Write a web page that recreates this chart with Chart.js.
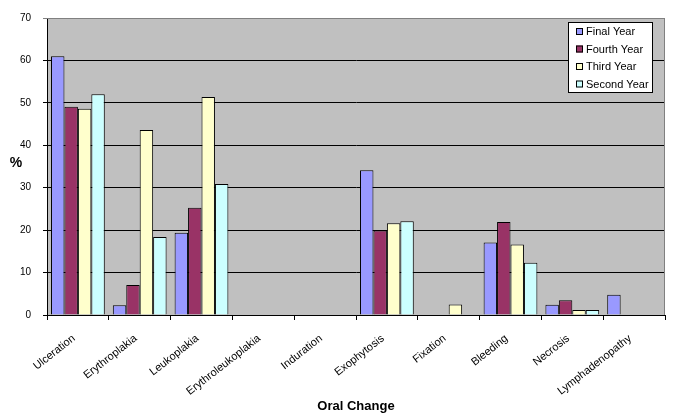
<!DOCTYPE html>
<html>
<head>
<meta charset="utf-8">
<script src="https://cdn.jsdelivr.net/npm/chart.js@4/dist/chart.umd.min.js"></script>
<style>
  body { margin: 0; background: #fff; }
  #wrap { width: 685px; height: 418px; }
</style>
</head>
<body>
<div id="wrap"><canvas id="myChart" width="685" height="418"></canvas></div>
<script>
const categories = ['Ulceration', 'Erythroplakia', 'Leukoplakia', 'Erythroleukoplakia', 'Induration',
    'Exophytosis', 'Fixation', 'Bleeding', 'Necrosis', 'Lymphadenopathy'];
const finalYear  = [61, 2.3, 19.4, 0, 0, 34.1, 0,   17.1, 2.4, 4.8];
const fourthYear = [49.1, 7.1, 25.3, 0, 0, 19.9, 0,  21.9, 3.5, 0];
const thirdYear  = [48.6, 43.6, 51.4, 0, 0, 21.6, 2.5, 16.6, 1.2, 0];
const secondYear = [52, 18.4, 30.9, 0, 0, 22.1, 0,   12.3, 1.2, 0];
const seriesNames = ['Final Year', 'Fourth Year', 'Third Year', 'Second Year'];
const seriesColors = ['#9999ff', '#993366', '#ffffcc', '#ccffff'];
const yTicks = [0, 10, 20, 30, 40, 50, 60, 70];

const FONT = "'Liberation Sans', Arial, sans-serif";

// grey plot area, border, the upright "%" and the boxed legend
const excelLook = {
    id: 'excelLook',
    beforeDraw(chart) {
        const a = chart.chartArea, ctx = chart.ctx;
        ctx.save();
        ctx.fillStyle = '#c0c0c0';
        ctx.fillRect(a.left, a.top, a.right - a.left, a.bottom - a.top);
        ctx.restore();
    },
    afterDraw(chart) {
        const a = chart.chartArea, ctx = chart.ctx;
        ctx.save();
        ctx.strokeStyle = '#808080';
        ctx.lineWidth = 1;
        ctx.beginPath();
        ctx.moveTo(a.left, a.top + 0.5);
        ctx.lineTo(a.right - 0.5, a.top + 0.5);
        ctx.lineTo(a.right - 0.5, a.bottom);
        ctx.stroke();

        ctx.fillStyle = '#000';
        ctx.font = 'bold 14px ' + FONT;
        ctx.textAlign = 'center';
        ctx.textBaseline = 'middle';
        ctx.fillText('%', 16, 163);

        // legend
        const lx = 568, ly = 22, lw = 85, lh = 71;
        ctx.fillStyle = '#fff';
        ctx.fillRect(lx, ly, lw, lh);
        ctx.strokeStyle = '#000';
        ctx.strokeRect(lx + 0.5, ly + 0.5, lw - 1, lh - 1);
        ctx.font = '11px ' + FONT;
        ctx.textAlign = 'left';
        chart.data.datasets.forEach((ds, i) => {
            const cy = ly + 9 + i * 17.5;
            ctx.fillStyle = ds.backgroundColor;
            ctx.fillRect(576, cy - 3, 7, 7);
            ctx.strokeStyle = '#000';
            ctx.strokeRect(576.5, cy - 2.5, 6, 6);
            ctx.fillStyle = '#000';
            ctx.fillText(ds.label, 586, cy + 1);
        });
        ctx.restore();
    }
};

const ctx = document.getElementById('myChart').getContext('2d');
const myChart = new Chart(ctx, {
    type: 'bar',
    data: {
        labels: categories,
        datasets: [finalYear, fourthYear, thirdYear, secondYear].map((vals, i) => ({
            label: seriesNames[i],
            data: vals,
            backgroundColor: seriesColors[i],
            borderColor: '#000',
            borderWidth: 1,
            categoryPercentage: 0.87,
            barPercentage: 1.0
        }))
    },
    options: {
        responsive: false,
        animation: false,
        layout: { padding: { left: 0, right: 20, top: 10, bottom: 0 } },
        plugins: {
            legend: { display: false },
            tooltip: { enabled: false }
        },
        scales: {
            x: {
                grid: { offset: true, drawOnChartArea: false, color: '#000', tickLength: 5 },
                border: { color: '#000' },
                ticks: {
                    color: '#000',
                    font: { family: FONT, size: 11 },
                    maxRotation: 38,
                    minRotation: 38,
                    padding: 12,
                    labelOffset: -4,
                    autoSkip: false
                },
                title: {
                    display: true,
                    text: 'Oral Change',
                    color: '#000',
                    font: { family: FONT, size: 13, weight: 'bold' },
                    padding: { top: 0, bottom: 4 }
                },
                afterFit(scale) { scale.height = 103; }
            },
            y: {
                min: 0,
                max: 70,
                afterBuildTicks(scale) { scale.ticks = yTicks.map(v => ({ value: v })); },
                grid: {
                    color: c => (c.tick && c.tick.value === 70) ? '#808080' : '#000',
                    tickLength: 4
                },
                border: { color: '#000' },
                ticks: {
                    color: '#000',
                    padding: 12,
                    font: { family: FONT, size: 10 }
                },
                afterFit(scale) { scale.width = 47; }
            }
        }
    },
    plugins: [excelLook]
});
</script>
</body>
</html>
